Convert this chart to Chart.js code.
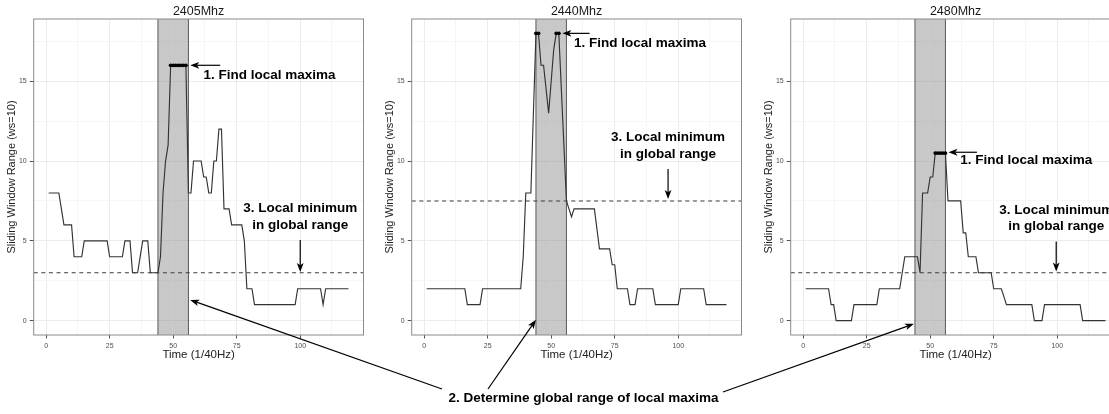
<!DOCTYPE html>
<html><head><meta charset="utf-8">
<script src="https://cdn.jsdelivr.net/npm/chart.js@4.4.1/dist/chart.umd.min.js"></script>
<style>
html,body{margin:0;padding:0;background:#fff;overflow:hidden;width:1109px;height:414px;position:relative;}
.panel{position:absolute;top:0;width:378px;height:370px;}
#overlay{position:absolute;left:0;top:0;pointer-events:none;}
</style></head><body>
<div class="panel" style="left:0px"><canvas id="c0" width="378" height="370"></canvas></div>
<div class="panel" style="left:378px"><canvas id="c1" width="378" height="370"></canvas></div>
<div class="panel" style="left:757px"><canvas id="c2" width="378" height="370"></canvas></div>
<canvas id="overlay" width="1109" height="414"></canvas>
<script>
// ---------- DATA ----------
const time = [1,2,3,4,5,6,7,8,9,10,11,12,13,14,15,16,17,18,19,20,
  21,22,23,24,25,26,27,28,29,30,31,32,33,34,35,36,37,38,39,40,
  41,42,43,44,45,46,47,48,49,50,51,52,53,54,55,56,57,58,59,60,
  61,62,63,64,65,66,67,68,69,70,71,72,73,74,75,76,77,78,79,80,
  81,82,83,84,85,86,87,88,89,90,91,92,93,94,95,96,97,98,99,100,
  101,102,103,104,105,106,107,108,109,110,111,112,113,114,115,116,117,118,119];

const panelTitles = ['2405Mhz', '2440Mhz', '2480Mhz'];

const range2405 = [8,8,8,8,8,7,6,6,6,6, 4,4,4,4,5,5,5,5,5,5,
  5,5,5,5,4,4,4,4,4,4, 5,5,5,3,3,3,4,5,5,5,
  3,3,3,3,4,8,10,11,16,16, 16,16,16,16,16,8,8,10,10,10,
  10,9,9,8,8,10,10,12,12,7, 7,7,6,6,6,6,6,5,2,2,
  2,1,1,1,1,1,1,1,1,1, 1,1,1,1,1,1,1,1,2,2,
  2,2,2,2,2,2,2,2,1,2, 2,2,2,2,2,2,2,2,2];

const range2440 = [2,2,2,2,2,2,2,2,2,2, 2,2,2,2,2,2,1,1,1,1,
  1,1,2,2,2,2,2,2,2,2, 2,2,2,2,2,2,2,2,4,8,
  8,8,13,18,18,16,16,14.5,13,15, 17,18,18,14.5,11,7.5,7,6.5,7,7,
  7,7,7,7,7,7,7,5.75,4.5,4.5, 4.5,4.5,4.5,3.5,3.5,2,2,2,2,2,
  1,1,1,2,2,2,2,2,2,2, 1,1,1,1,1,1,1,1,1,1,
  2,2,2,2,2,2,2,2,2,2, 1,1,1,1,1,1,1,1,1];

const range2480 = [2,2,2,2,2,2,2,2,2,2, 1,1,0,0,0,0,0,0,0,1,
  1,1,1,1,1,1,1,1,1,2, 2,2,2,2,2,2,2,2,3,4,
  4,4,4,4,4,3,8,8,8,9, 9,10.5,10.5,10.5,10.5,10.5,7.5,7.5,7.5,7.5,
  7.5,7.5,5.5,5.5,4,4,4,4,3,3, 3,3,3,3,2,2,2,2,1.5,1,
  1,1,1,1,1,1,1,1,1,1, 0,0,0,0,1,1,1,1,1,1,
  1,1,1,1,1,1,1,1,1,0, 0,0,0,0,0,0,0,0,0];

// time points flagged as local maxima
const maxima2405 = [49,50,51,52,53,54,55];
const maxima2440 = [44,45,52,53];
const maxima2480 = [52,53,54,55,56];

// local minimum inside the global range (dashed line)
const localMin = [3, 7.5, 3];
// global range of local maxima
const globalRange = [44, 56];

const xTicks = [0, 25, 50, 75, 100];
const yTicks = [0, 5, 10, 15];

const seriesList = [range2405, range2440, range2480];
const maximaList = [maxima2405, maxima2440, maxima2480];

// annotation placements (data coordinates)
const annot = [
  {maxFrom:[68.5,16], maxTo:[56.7,16], maxText:[61.9,15.38],
   minX:100, minLines:[7.06,6.0], minArrow:[5.05,3.05]},
  {maxFrom:[65.1,18], maxTo:[54.4,18], maxText:[59.0,17.39],
   minX:96, minLines:[11.5,10.43], minArrow:[9.5,7.62]},
  {maxFrom:[68.4,10.55], maxTo:[57.2,10.55], maxText:[61.8,10.02],
   minX:99.6, minLines:[6.9,5.9], minArrow:[4.96,3.08]}
];
// targets of "2." arrows (data coords per panel)
const rangeArrowTips = [[56.7,1.3],[44,0.05],[43.6,-0.2]];

// ---------- RENDER ----------
const F = "'Liberation Sans', Arial, Helvetica, sans-serif";
const offsets = [0, 378, 757];
const xMin = time[0] - 0.05*(time[time.length-1]-time[0]);
const xMax = time[time.length-1] + 0.05*(time[time.length-1]-time[0]);
const allVals = [].concat(range2405, range2440, range2480);
const vMin = Math.min(...allVals), vMax = Math.max(...allVals);
const yMin = vMin - 0.05*(vMax-vMin), yMax = vMax + 0.05*(vMax-vMin);

const xGrid = [], yGrid = [];
xTicks.forEach((t,i)=>{ xGrid.push(t); xGrid.push(t + (xTicks[1]-xTicks[0])/2); });
yTicks.forEach((t,i)=>{ yGrid.push(t); yGrid.push(t + (yTicks[1]-yTicks[0])/2); });

function drawArrow(ctx, x1, y1, x2, y2, L, W) {
  L = L || 9; W = W || 3.4;
  const a = Math.atan2(y2-y1, x2-x1);
  const c = Math.cos(a), s = Math.sin(a);
  const nx = x2 - 0.75*L*c, ny = y2 - 0.75*L*s;
  ctx.beginPath(); ctx.moveTo(x1,y1); ctx.lineTo(nx,ny); ctx.stroke();
  const bx = x2 - L*c, by = y2 - L*s;
  ctx.beginPath();
  ctx.moveTo(x2,y2);
  ctx.lineTo(bx - s*W, by + c*W);
  ctx.lineTo(nx, ny);
  ctx.lineTo(bx + s*W, by - c*W);
  ctx.closePath(); ctx.fill();
}

function makePlugin(i) {
  return {
    id: 'panel'+i,
    beforeDatasetsDraw(chart) {
      const {ctx, chartArea:a, scales:{x,y}} = chart;
      ctx.save();
      ctx.beginPath(); ctx.rect(a.left, a.top, a.right-a.left, a.bottom-a.top); ctx.clip();
      const xl = x.getPixelForValue(globalRange[0]), xr = x.getPixelForValue(globalRange[1]);
      ctx.fillStyle = 'rgba(128,128,128,0.43)';
      ctx.fillRect(xl, a.top, xr-xl, a.bottom-a.top);
      // grid line seen through the band
      const xm = x.getPixelForValue(xTicks[2]);
      ctx.strokeStyle = 'rgba(255,255,255,0.22)'; ctx.lineWidth = 1;
      ctx.beginPath(); ctx.moveTo(xm, a.top); ctx.lineTo(xm, a.bottom); ctx.stroke();
      ctx.strokeStyle = '#5a5a5a'; ctx.lineWidth = 1;
      ctx.beginPath();
      ctx.moveTo(xl, a.top); ctx.lineTo(xl, a.bottom);
      ctx.moveTo(xr, a.top); ctx.lineTo(xr, a.bottom);
      ctx.stroke();
      ctx.restore();
    },
    afterDatasetsDraw(chart) {
      const {ctx, chartArea:a, scales:{x,y}} = chart;
      ctx.save();
      ctx.beginPath(); ctx.rect(a.left, a.top, a.right-a.left, a.bottom-a.top); ctx.clip();
      const yl = y.getPixelForValue(localMin[i]);
      ctx.strokeStyle = '#3c3c3c'; ctx.lineWidth = 1.1; ctx.setLineDash([4,3.6]);
      ctx.beginPath(); ctx.moveTo(a.left, yl); ctx.lineTo(a.right, yl); ctx.stroke();
      ctx.restore();
      // border
      ctx.save();
      ctx.strokeStyle = '#8a8a8a'; ctx.lineWidth = 1;
      ctx.strokeRect(a.left, a.top, a.right-a.left, a.bottom-a.top);
      ctx.restore();
      // annotations
      const an = annot[i];
      ctx.save();
      ctx.strokeStyle = '#000'; ctx.fillStyle = '#000'; ctx.lineWidth = 1.2;
      drawArrow(ctx, x.getPixelForValue(an.maxFrom[0]), y.getPixelForValue(an.maxFrom[1]),
                     x.getPixelForValue(an.maxTo[0]), y.getPixelForValue(an.maxTo[1]));
      drawArrow(ctx, x.getPixelForValue(an.minX), y.getPixelForValue(an.minArrow[0]),
                     x.getPixelForValue(an.minX), y.getPixelForValue(an.minArrow[1]));
      ctx.font = 'bold 13.5px ' + F;
      ctx.textBaseline = 'middle';
      ctx.textAlign = 'left';
      ctx.fillText('1. Find local maxima', x.getPixelForValue(an.maxText[0]), y.getPixelForValue(an.maxText[1]));
      ctx.textAlign = 'center';
      ctx.fillText('3. Local minimum', x.getPixelForValue(an.minX), y.getPixelForValue(an.minLines[0]));
      ctx.fillText('in global range', x.getPixelForValue(an.minX), y.getPixelForValue(an.minLines[1]));
      ctx.restore();
    },
    afterDraw(chart) {
      const {ctx, chartArea:a} = chart;
      ctx.save();
      ctx.font = '12.5px ' + F; ctx.fillStyle = '#1a1a1a';
      ctx.textAlign = 'center'; ctx.textBaseline = 'middle';
      ctx.fillText(panelTitles[i], (a.left+a.right)/2, a.top - 7.5);
      ctx.restore();
    }
  };
}

const charts = seriesList.map((vals, i) => {
  const pts = time.map((t,k)=>({x:t, y:vals[k]}));
  const mpts = maximaList[i].map(t=>({x:t, y:vals[time.indexOf(t)]}));
  return new Chart(document.getElementById('c'+i), {
    type: 'line',
    data: { datasets: [
      {data: mpts, showLine:false, pointRadius:1.9, pointBackgroundColor:'#000', pointBorderWidth:0, borderColor:'#000'},
      {data: pts, borderColor:'#333', borderWidth:1.15, pointRadius:0, tension:0, fill:false}
    ]},
    options: {
      responsive:false, animation:false, events:[],
      layout:{padding:{left:0, right:14.5, top:19, bottom:0}},
      plugins:{legend:{display:false}, tooltip:{enabled:false}, title:{display:false}},
      scales:{
        x:{type:'linear', min:xMin, max:xMax,
          afterBuildTicks: s => { s.ticks = xGrid.map(v=>({value:v})); },
          afterFit: s => { s.height = 35; },
          ticks:{autoSkip:false, maxRotation:0, minRotation:0, padding:3, color:'#4d4d4d',
                 font:{family:F, size:7}, callback: v => xTicks.includes(v) ? String(v) : ''},
          grid:{color: c => (c.tick && xTicks.includes(c.tick.value)) ? '#ececec' : '#f6f6f6',
                lineWidth:1, drawTicks:true, tickLength:3.5, tickWidth:1,
                tickColor: c => (c.tick && xTicks.includes(c.tick.value)) ? '#555' : 'rgba(0,0,0,0)'},
          border:{display:false},
          title:{display:true, text:'Time (1/40Hz)', color:'#222', font:{family:F, size:11.5}, padding:{top:0, bottom:8}}
        },
        y:{type:'linear', min:yMin, max:yMax,
          afterBuildTicks: s => { s.ticks = yGrid.map(v=>({value:v})); },
          afterFit: s => { s.width = 33.7; },
          ticks:{autoSkip:false, padding:3, color:'#4d4d4d',
                 font:{family:F, size:7}, callback: v => yTicks.includes(v) ? String(v) : ''},
          grid:{color: c => (c.tick && yTicks.includes(c.tick.value)) ? '#ececec' : '#f6f6f6',
                lineWidth:1, drawTicks:true, tickLength:4, tickWidth:1,
                tickColor: c => (c.tick && yTicks.includes(c.tick.value)) ? '#555' : 'rgba(0,0,0,0)'},
          border:{display:false},
          title:{display:true, text:'Sliding Window Range (ws=10)', color:'#222', font:{family:F, size:11}, padding:{top:5, bottom:0}}
        }
      }
    },
    plugins:[makePlugin(i)]
  });
});

// overlay: step 2 annotation across panels
(function(){
  const ctx = document.getElementById('overlay').getContext('2d');
  ctx.strokeStyle = '#000'; ctx.fillStyle = '#000'; ctx.lineWidth = 1.2;
  const starts = [[442,389],[488,389],[723,392]];
  charts.forEach((ch,i)=>{
    const tx = offsets[i] + ch.scales.x.getPixelForValue(rangeArrowTips[i][0]);
    const ty = ch.scales.y.getPixelForValue(rangeArrowTips[i][1]);
    drawArrow(ctx, starts[i][0], starts[i][1], tx, ty);
  });
  ctx.font = 'bold 13.5px ' + F;
  ctx.textAlign = 'center'; ctx.textBaseline = 'middle';
  ctx.fillText('2. Determine global range of local maxima', 583.5, 398.5);
})();
</script>
</body></html>
